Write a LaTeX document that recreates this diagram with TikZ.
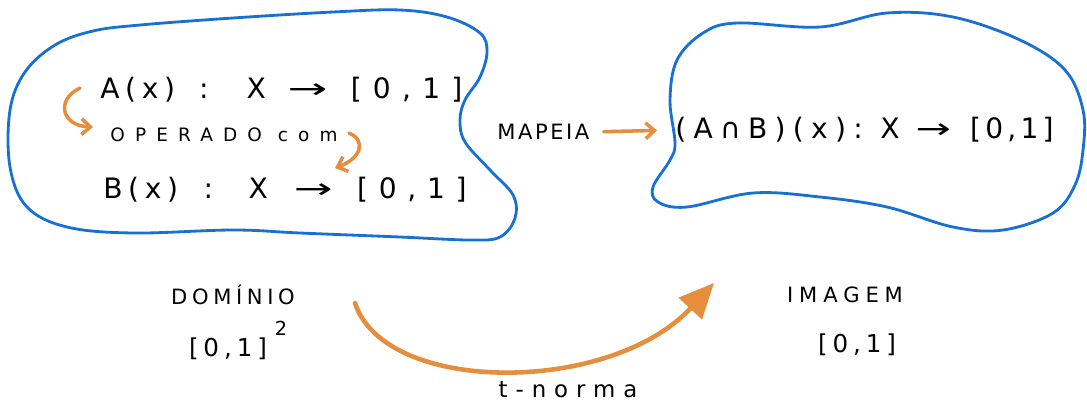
\documentclass[tikz,border=0pt]{standalone}
\usepackage{fontspec}
\usepackage{graphicx}
\setmainfont{DejaVu Sans}
\usetikzlibrary{arrows.meta}
\definecolor{inkblue}{RGB}{22,112,214}
\definecolor{inkorange}{RGB}{228,142,62}
% stretched arrow used inside the formulas
\newcommand{\longto}[1]{\scalebox{#1}[1]{→}}
% widely spaced unit interval
\newcommand{\unitint}[1]{{\addfontfeature{LetterSpace=#1}[0,1]}}
\begin{document}
\begin{tikzpicture}[x=0.02cm,y=-0.02cm,
  blob/.style={draw=inkblue,line width=1.6pt,line join=round},
  formula/.style={anchor=west,inner sep=0pt,font=\fontsize{16}{19}\selectfont\addfontfeature{LetterSpace=20}},
  caption/.style={inner sep=0pt,font=\fontsize{12}{14}\selectfont\addfontfeature{LetterSpace=22}},
  interval/.style={inner sep=0pt,font=\fontsize{14}{16}\selectfont\addfontfeature{LetterSpace=20}},
  small/.style={anchor=west,inner sep=0pt,font=\fontsize{10.5}{12}\selectfont\addfontfeature{LetterSpace=55}},
  hook/.style={draw=inkorange,line width=2pt,line cap=round,-{Straight Barb[length=5pt,width=9pt]}},
  sweep/.style={draw=inkorange,line width=2.6pt,line cap=round,-{Triangle[length=0.7cm,width=0.62cm]}}]
\useasboundingbox (0,0) rectangle (1087,403);

% domain set
\draw[blob] plot[smooth cycle,tension=0.6] coordinates {
  (93,31) (140,25) (233,18) (333,12) (400,10) (447,17) (480,33) (487,52) (480,77)
  (465,100) (460,120) (465,142) (490,170) (513,195) (515,218) (500,237)
  (470,240) (400,237) (300,233) (233,230) (133,233) (67,227) (27,207)
  (10,167) (10,110) (25,72) (55,45)};

% image set
\draw[blob] plot[smooth cycle,tension=0.6] coordinates {
  (737,23) (820,27) (887,13) (953,17) (1020,40) (1065,70) (1083,110)
  (1083,150) (1075,185) (1053,213) (1003,230) (953,227) (887,207) (820,197)
  (753,193) (687,207) (658,202) (653,187) (670,160) (675,143) (670,100)
  (677,60) (703,33)};

% functions inside the sets
\node[formula] (fa) at (100,90)
  {A(x)\hspace{13.8pt}:\hspace{21.5pt}X\hspace{12.4pt}\longto{1.7}\hspace{13.2pt}\unitint{40}};
\node[small] (op) at (110,135) {OPERADO com};
\node[formula] (fb) at (103,190)
  {B(x)\hspace{14.5pt}:\hspace{20.3pt}X\hspace{14.7pt}\longto{1.65}\hspace{14pt}\unitint{38}};
\node[formula,font=\fontsize{16}{19}\selectfont\addfontfeature{LetterSpace=26}] (ab) at (675,130)
  {(A∩B)(x):\hspace{10pt}X\hspace{9pt}\longto{1.5}\hspace{11pt}\unitint{15}};

\node[caption,anchor=west,font=\fontsize{12}{14}\selectfont\addfontfeature{LetterSpace=12}] (mapeia) at (497,132) {MAPEIA};
\draw[hook,shorten <=14*0.02cm,shorten >=18*0.02cm] (mapeia.east) -- (ab.west);

% hooked arrows linking the two membership functions
\coordinate (h1s) at (80,88);
\coordinate (h1e) at (93,127);
\draw[hook] (h1s) .. controls (55,100) and (62,126) .. (h1e);
\coordinate (h2s) at (349,133);
\coordinate (h2e) at (335,168);
\draw[hook] (h2s) .. controls (366,140) and (362,158) .. (h2e);

% domain and image of the t-norm
\node[caption] (dom) at (233,295) {DOMÍNIO};
\node[interval] (domset) at (228,349) {[0,1]};
\node[inner sep=0pt,font=\fontsize{11}{12}\selectfont] (sq) at (281,328) {2};
\node[caption,font=\fontsize{12}{14}\selectfont\addfontfeature{LetterSpace=28}] (img) at (845,295) {IMAGEM};
\node[interval] (imgset) at (857,345) {[0,1]};

\coordinate (as) at (355,303);
\coordinate (ae) at (714,283);
\draw[sweep] (as) .. controls (385,395) and (610,395) .. (ae);
\node[caption,font=\fontsize{13}{15}\selectfont\addfontfeature{LetterSpace=35}] (tn) at (568,390) {t-norma};
\end{tikzpicture}
\end{document}
